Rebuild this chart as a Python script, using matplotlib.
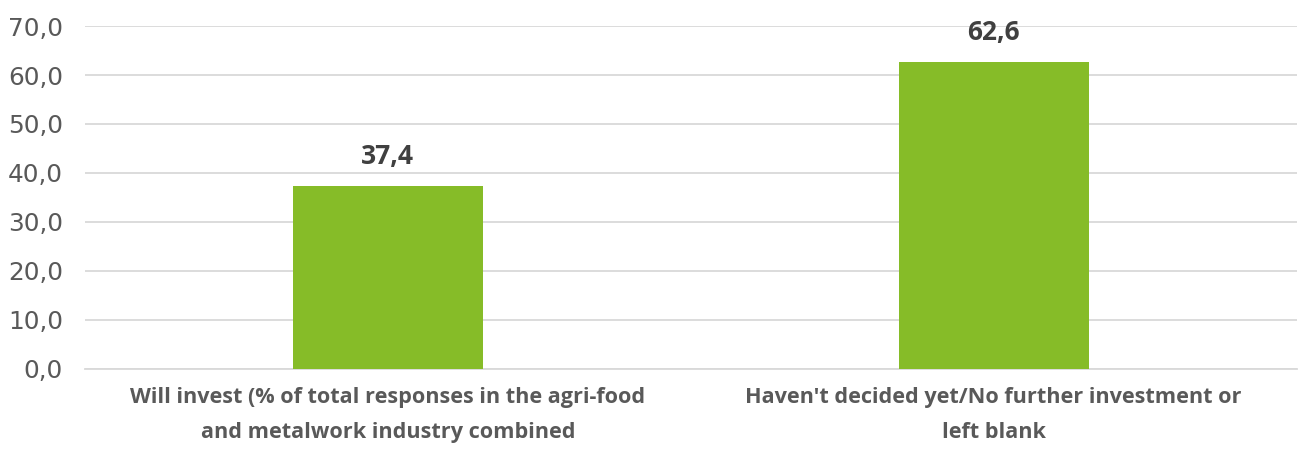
import matplotlib
matplotlib.use("Agg")
import matplotlib.pyplot as plt

# data
categories = ["Will invest (% of total responses in the agri-food\nand metalwork industry combined",
              "Haven't decided yet/No further investment or\nleft blank"]
values = [37.4, 62.6]
yticks = [0, 10, 20, 30, 40, 50, 60, 70]

green = "#86bc28"

fig = plt.figure(figsize=(13, 4.57), dpi=100)
ax = fig.add_axes([0.0654, 0.1926, 0.932, 0.7505])

x = range(len(values))
bars = ax.bar(x, values, width=0.313, color=green, zorder=3)

for b, v in zip(bars, values):
    ax.text(b.get_x() + b.get_width() / 2, v + 3.3, f"{v:.1f}".replace(".", ","),
            ha="center", va="bottom", fontsize=19, fontweight="bold",
            family="Open Sans", color="#404040")

ax.set_xlim(-0.5, 1.5)
ax.set_ylim(0, 70)
ax.set_yticks(yticks)
ax.set_yticklabels([f"{t:.1f}".replace(".", ",") for t in yticks],
                   fontsize=17.8, color="#595959", family="DejaVu Sans")
ax.set_xticks(list(x))
ax.set_xticklabels(categories, fontsize=15.6, fontweight="bold", family="Open Sans",
                   color="#595959", linespacing=1.9)
ax.tick_params(axis="both", length=0)
ax.tick_params(axis="y", pad=16)
ax.tick_params(axis="x", pad=13)
ax.yaxis.grid(True, color="#d9d9d9", lw=1.3, zorder=0)
for s in ["top", "right", "left"]:
    ax.spines[s].set_visible(False)
ax.spines["bottom"].set_color("#d9d9d9")
ax.spines["bottom"].set_linewidth(1.3)

fig.savefig("out.png", dpi=100)
